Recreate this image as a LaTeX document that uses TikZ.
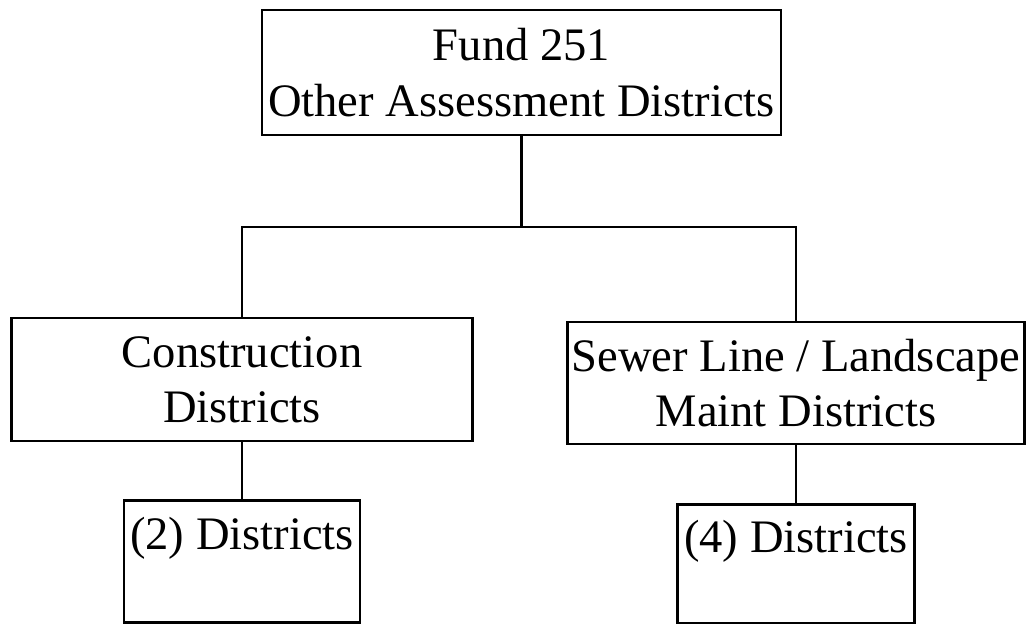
\documentclass[tikz,border=0pt]{standalone}
\usepackage{fontspec}
\setmainfont{Liberation Serif}
\usetikzlibrary{positioning}

\begin{document}
\begin{tikzpicture}[x=0.02cm, y=-0.02cm, nodes = {align = center, inner sep=1pt, font=\fontsize{26.5}{31.5}\selectfont}, line width=1.4pt]
    \useasboundingbox (0,0) rectangle (1026,623);
    \node (fund) [draw, minimum width=10.38cm, minimum height=2.5cm] at (521.5,72.5) {Fund 251\\Other Assessment Districts};
    \node (constr) [draw, minimum width=9.22cm, minimum height=2.46cm] at (242,379.5) {Construction\\Districts};
    \node (sewer) [draw, minimum width=9.14cm, minimum height=2.44cm] at (796,383) {Sewer Line / Landscape\\Maint Districts};
    \node (two) [draw, below = 1.14cm of constr, minimum width=4.72cm, minimum height=2.44cm] {(2) Districts\\ ~};
    \node (four) [draw, below = 1.16cm of sewer, minimum width=4.74cm, minimum height=2.38cm] {(4) Districts\\ ~};
    \coordinate (split) at (521.5,227);
    \draw (fund) -- (split);
    \draw (constr.north) |- (split) -| (sewer.north);
    \draw (constr) -- (two);
    \draw (sewer) -- (four);
  \end{tikzpicture}
\end{document}
